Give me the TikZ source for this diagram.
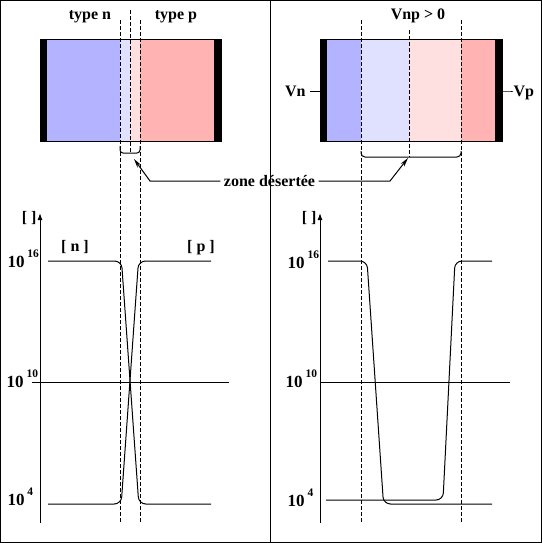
\documentclass[tikz,border=0pt]{standalone}
\usepackage{fontspec}
\setmainfont{Liberation Serif}
\usepackage{tikz}
\usetikzlibrary{arrows.meta}

\definecolor{nblue}{RGB}{179,179,255}
\definecolor{nlight}{RGB}{224,224,255}
\definecolor{plight}{RGB}{255,224,224}
\definecolor{pred}{RGB}{255,179,179}

\tikzset{
  lbl/.style={font=\bfseries\fontsize{16}{18}\selectfont, inner sep=0pt},
  guide/.style={dash pattern=on 4pt off 2pt, line width=0.9pt},
  trace/.style={line width=1pt, rounded corners=7pt},
  axisline/.style={line width=1pt, -{Latex[length=7pt,width=5pt]}},
  ptr/.style={line width=1pt, -{Stealth[length=9pt,width=4.5pt]}},
}
\newcommand{\tenpow}[1]{\fontsize{17}{18}\selectfont 10\hspace{3pt}\raisebox{9.5pt}{\fontsize{11.5}{12}\selectfont #1}}

\begin{document}
\begin{tikzpicture}[x=1pt,y=-1pt,line width=1pt]
\useasboundingbox (0,0) rectangle (542,543);
\draw (0.5,0.5) rectangle (541.5,542.5);
\draw (270.5,0) -- (270.5,543);

% left diode, no bias
\fill[nblue] (47,40) rectangle (120,141);
\fill[nlight] (120,40) rectangle (130,141);
\fill[plight] (130,40) rectangle (140,141);
\fill[pred] (140,40) rectangle (214,141);
\fill[black] (40,40) rectangle (47,141);
\fill[black] (214,40) rectangle (221,141);
\draw (40,40) rectangle (221,141);
\node[lbl, anchor=base](typen) at (90,20) {type n};
\node[lbl, anchor=base](typep) at (176,20) {type p};

% right diode, biased
\fill[nblue] (327,40) rectangle (361,141);
\fill[nlight] (361,40) rectangle (409,141);
\fill[plight] (409,40) rectangle (461,141);
\fill[pred] (461,40) rectangle (495,141);
\fill[black] (320,40) rectangle (327,141);
\fill[black] (495,40) rectangle (502,141);
\draw (320,40) rectangle (502,141);
\node[lbl, anchor=base](vnp) at (418,20) {Vnp > 0};
\node[lbl, anchor=base east](vn) at (306,96) {Vn};
\node[lbl, anchor=base west](vp) at (513,96) {Vp};
\coordinate (vnend) at (320,91);
\coordinate (vpend) at (502,91);
\draw (vn.east |- vnend) ++(4,0) -- (vnend);
\draw (vpend) -- (vp.west |- vpend) -- ++(-2,0);

% guide lines
\draw[guide] (120,20) -- (120,523);
\draw[guide] (140,20) -- (140,523);
\draw[guide] (130,10) -- (130,153);
\draw[guide] (361,20) -- (361,523);
\draw[guide] (461,20) -- (461,523);
\draw[guide] (409,30) -- (409,157);

% depletion zone brackets
\draw[rounded corners=3pt] (120,146) -- (120,153) -- (140,153) -- (140,146);
\draw[rounded corners=4pt] (361,151) -- (361,157) -- (461,157) -- (461,151);
\coordinate (brkL) at (134,159);
\coordinate (brkR) at (408,158);
\node[lbl, anchor=base](zone) at (269.5,186) {zone désertée};
\draw[ptr] (zone.west |- 0,181) ++(-3,0) -- (150,181) -- (brkL);
\draw[ptr] (zone.east |- 0,181) ++(3,0) -- (390,181) -- (brkR);

% left concentrations
\draw[axisline] (40,523) -- (40,213);
\node[lbl, anchor=base east](axL) at (37,222) {[ ]};
\draw (32,382) -- (229,382);
\node[lbl, anchor=base west](l16) at (7,267) {\tenpow{16}};
\node[lbl, anchor=base west](l10) at (6,387) {\tenpow{10}};
\node[lbl, anchor=base west](l4) at (7,505) {\tenpow{4}};
\node[lbl, anchor=base](nL) at (75,251) {[ n ]};
\node[lbl, anchor=base](pL) at (201,251) {[ p ]};
\draw[trace] (48,261) -- (121.5,261) -- (138.8,504) -- (211,504);
\draw[trace] (48,504) -- (121.2,504) -- (138.5,261) -- (211,261);

% right concentrations
\draw[axisline] (320,523) -- (320,213);
\node[lbl, anchor=base east](axR) at (317,222) {[ ]};
\draw (320,382) -- (510,382);
\node[lbl, anchor=base west](r16) at (287,268) {\tenpow{16}};
\node[lbl, anchor=base west](r10) at (285,387) {\tenpow{10}};
\node[lbl, anchor=base west](r4) at (287,506) {\tenpow{4}};
\draw[trace] (328,261) -- (367,261) -- (383.5,504) -- (492,504);
\draw[trace] (326,500) -- (443,500) -- (455,261) -- (492,261);
\end{tikzpicture}
\end{document}
